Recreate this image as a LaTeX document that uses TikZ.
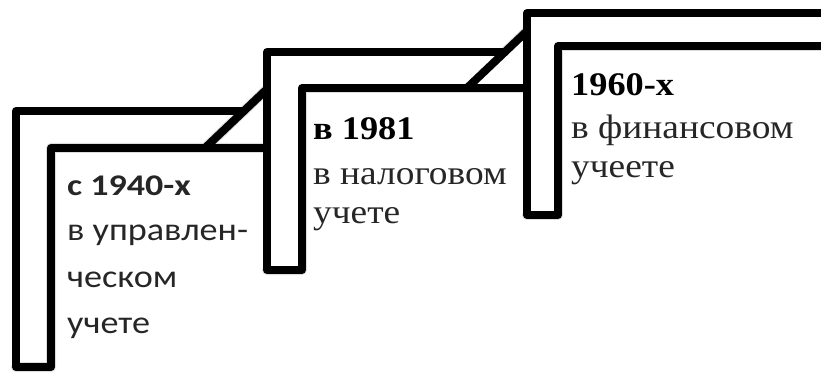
\documentclass[tikz,border=0pt]{standalone}
\usepackage{fontspec}
\setmainfont{Liberation Serif}
\newfontfamily\calfont{Carlito}
\begin{document}
\begin{tikzpicture}[x=1pt,y=-1pt,
  stepline/.style={line width=8pt,line join=round,line cap=round,draw=black},
  shadowline/.style={line width=10pt,line join=round,line cap=round,draw=black!22,opacity=0.6},
  lbl/.style={anchor=base west,inner sep=0pt,text=black!85},
  sanshead/.style={lbl,xscale=1.2,font=\calfont\bfseries\fontsize{30}{30}\selectfont},
  sanslbl/.style={lbl,xscale=1.13,font=\calfont\fontsize{32}{32}\selectfont},
  serifhead/.style={lbl,text=black,xscale=1.1,font=\bfseries\fontsize{33}{33}\selectfont},
  seriflbl/.style={lbl,xscale=1.1,font=\fontsize{34}{34}\selectfont}]
\useasboundingbox (0,0) rectangle (821,374);
% coordinates
\coordinate (a1) at (16,367); \coordinate (a2) at (16,111); \coordinate (a3) at (244,111);
\coordinate (a4) at (51,367); \coordinate (a5) at (51,148); \coordinate (a6) at (266,148);
\coordinate (a7) at (205,148); \coordinate (a8) at (266,90);
\coordinate (b1) at (267,270); \coordinate (b2) at (267,52); \coordinate (b3) at (505,52);
\coordinate (b4) at (302,270); \coordinate (b5) at (302,88); \coordinate (b6) at (527,88);
\coordinate (b7) at (467,88); \coordinate (b8) at (527,31);
\coordinate (c1) at (527,215); \coordinate (c2) at (527,13); \coordinate (c3) at (830,13);
\coordinate (c4) at (558,215); \coordinate (c5) at (558,46); \coordinate (c6) at (830,46);
% shadows
\begin{scope}[shift={(2,3)}]
\draw[shadowline] (a4) -- (a5) -- (a6) (a7) -- (a8) (a1) -- (a4);
\draw[shadowline] (b4) -- (b5) -- (b6) (b7) -- (b8) (b1) -- (b4);
\draw[shadowline] (c4) -- (c5) -- (c6) (c1) -- (c4);
\end{scope}
% step 1
\draw[stepline] (a3) -- (a2) -- (a1) -- (a4) -- (a5) -- (a6);
\draw[stepline] (a7) -- (a8);
% step 2
\fill[white] (b1) -- (b2) -- (b3) -- (b8) -- (b6) -- (b5) -- (b4) -- cycle;
\draw[stepline] (b3) -- (b2) -- (b1) -- (b4) -- (b5) -- (b6);
\draw[stepline] (b7) -- (b8);
% step 3
\fill[white] (c1) -- (c2) -- (c3) -- (c6) -- (c5) -- (c4) -- cycle;
\draw[stepline] (c3) -- (c2) -- (c1) -- (c4) -- (c5) -- (c6);
% texts
\node[sanshead] (t11) at (67,196) {с 1940-х};
\node[sanslbl] (t12) at (67,240.5) {в управлен-};
\node[sanslbl] (t13) at (67,287) {ческом};
\node[sanslbl] (t14) at (67,333) {учете};
\node[serifhead] (t21) at (313,139.5) {в 1981};
\node[seriflbl] (t22) at (313,184) {в налоговом};
\node[seriflbl] (t23) at (313,223) {учете};
\node[serifhead] (t31) at (571,95.5) {1960-х};
\node[seriflbl] (t32) at (571,139) {в финансовом};
\node[seriflbl] (t33) at (571,178) {учеете};
\end{tikzpicture}
\end{document}
